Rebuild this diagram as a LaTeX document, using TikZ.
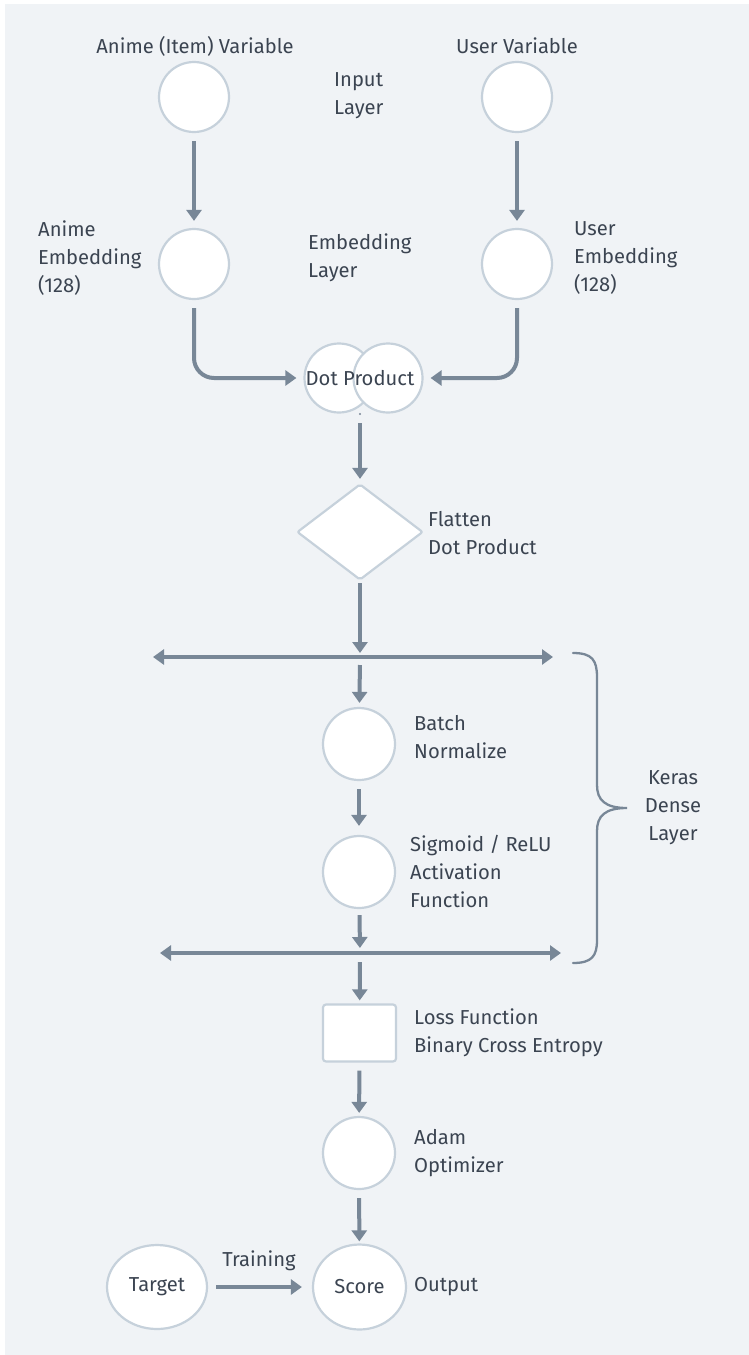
\documentclass[tikz,border=0pt]{standalone}
\usepackage{fontspec}
\setmainfont{Fira Sans}
\usetikzlibrary{arrows.meta,shapes.geometric}
\definecolor{bgc}{HTML}{F0F3F6}
\definecolor{edgec}{HTML}{C6D1DB}
\definecolor{arrc}{HTML}{788797}
\definecolor{txtc}{HTML}{3B4451}
\tikzset{
  circ/.style={circle,draw=edgec,line width=2.2pt,fill=white,minimum size=70pt,inner sep=0pt},
  lbl/.style={text=txtc,font=\fontsize{20.2}{28}\selectfont,inner sep=0pt,align=left,anchor=west},
  clbl/.style={text=txtc,font=\fontsize{20.2}{28}\selectfont,inner sep=0pt,align=center},
  conn/.style={draw=arrc,line width=4pt,-{Triangle[width=15pt,length=11pt]}},
  dconn/.style={draw=arrc,line width=4pt,{Triangle[width=15pt,length=11pt]}-{Triangle[width=15pt,length=11pt]}},
}
\begin{document}
\begin{tikzpicture}[x=1pt,y=-1pt]
\useasboundingbox (0,0) rectangle (749,1355);
\fill[white] (0,0) rectangle (749,1355);
\fill[bgc] (5,4) rectangle (749,1355);

% input layer
\node[circ] (ain) at (194,97) {};
\node[circ] (uin) at (517,97) {};
\node[clbl] (ainl) at (195,46) {Anime (Item) Variable};
\node[clbl] (uinl) at (517,46) {User Variable};
\node[lbl] (inl) at (334,96) {Input\\Layer};

% embedding layer
\node[circ] (aemb) at (194,264) {};
\node[circ] (uemb) at (517,264) {};
\node[lbl] (aembl) at (38,258) {Anime\\Embedding\\(128)};
\node[lbl] (uembl) at (574,258) {User\\Embedding\\(128)};
\node[lbl] (embl) at (308,258) {Embedding\\Layer};

% dot product
\node[circ,minimum size=69pt] (dotL) at (339,378) {};
\node[circ,minimum size=69pt] (dotR) at (388,378) {};
\node[clbl] (dotl) at (360,378) {Dot Product};
\fill[arrc] (360,414) circle (1.2pt);
\coordinate (dotb) at (360,423);

% flatten
\node[diamond,draw=edgec,line width=2.2pt,fill=white,rounded corners=2pt,minimum width=126pt,minimum height=96pt,inner sep=0pt,aspect=1.3] (flat) at (360,532) {};
\node[lbl] (flatl) at (428,533) {Flatten\\Dot Product};

% dense layer
\coordinate (l1L) at (153,657);
\coordinate (l1R) at (553,657);
\coordinate (l1C) at (360,657);
\coordinate (l2L) at (160,953);
\coordinate (l2R) at (561,953);
\coordinate (l2C) at (360,953);
\node[circ,minimum size=72pt] (batch) at (359,744) {};
\node[lbl] (batchl) at (414,737) {Batch\\Normalize};
\node[circ,minimum size=72pt] (sig) at (359,872) {};
\node[lbl] (sigl) at (410,871) {Sigmoid / ReLU\\Activation\\Function};
\node[clbl] (keras) at (673,808) {Keras\\Dense\\Layer};

% loss
\node[draw=edgec,line width=2.2pt,fill=white,rounded corners=3pt,minimum width=73pt,minimum height=57pt,inner sep=0pt] (loss) at (359.5,1033) {};
\node[lbl] (lossl) at (414,1033) {Loss Function\\Binary Cross Entropy};

% adam
\node[circ,minimum size=72pt] (adam) at (359,1153) {};
\node[lbl] (adaml) at (414,1153) {Adam\\Optimizer};

% output
\node[ellipse,draw=edgec,line width=2.2pt,fill=white,minimum width=93pt,minimum height=85pt,inner sep=0pt] (score) at (359.5,1287) {};
\node[clbl] (scoret) at (359.5,1287) {Score};
\node[ellipse,draw=edgec,line width=2.2pt,fill=white,minimum width=100pt,minimum height=84pt,inner sep=0pt] (target) at (157,1287) {};
\node[clbl] (targett) at (157,1287) {Target};
\node[lbl] (outl) at (414,1287) {Output};
\node[clbl] (trainl) at (259,1261) {Training};

% connectors
\draw[conn,shorten <=8pt,shorten >=7pt] (ain) -- (aemb);
\draw[conn,shorten <=8pt,shorten >=7pt] (uin) -- (uemb);
\draw[conn,rounded corners=20pt,shorten <=8pt,shorten >=7pt] (aemb.south) |- (dotL.west);
\draw[conn,rounded corners=20pt,shorten <=8pt,shorten >=7pt] (uemb.south) |- (dotR.east);
\draw[conn,shorten >=4pt] (dotb) -- (flat.north);
\draw[conn,shorten <=2pt,shorten >=4pt] (flat.south) -- (l1C);
\draw[dconn] (l1L) -- (l1R);
\draw[conn,shorten <=8pt,shorten >=4pt] (l1C) -- (batch);
\draw[conn,shorten <=8pt,shorten >=9pt] (batch) -- (sig);
\draw[conn,shorten <=6pt,shorten >=5pt] (sig) -- (l2C);
\draw[dconn] (l2L) -- (l2R);
\draw[conn,shorten <=9pt,shorten >=3pt] (l2C) -- (loss);
\draw[conn,shorten <=8pt,shorten >=3pt] (loss) -- (adam);
\draw[conn,shorten <=8pt,shorten >=2pt] (adam) -- (score);
\draw[conn,shorten <=8pt,shorten >=10pt] (target) -- (score);

% brace
\draw[arrc,line width=2.3pt,line cap=round]
  (573,653) .. controls (592,653) and (597,660) .. (597,677)
  -- (597,785) .. controls (597,800) and (605,808) .. (627,808)
  .. controls (605,808) and (597,816) .. (597,831)
  -- (597,940) .. controls (597,956) and (592,963) .. (573,963);
\end{tikzpicture}
\end{document}
